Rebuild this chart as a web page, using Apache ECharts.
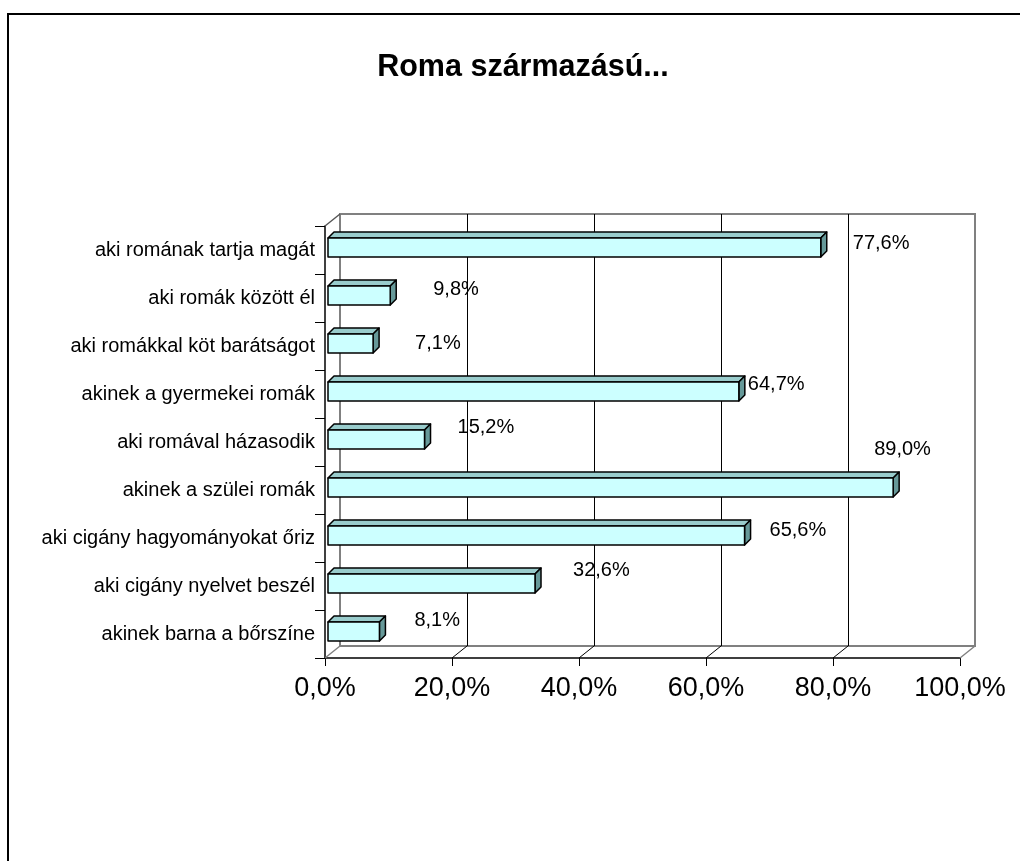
<!DOCTYPE html>
<html>
<head>
<meta charset="utf-8">
<title>Roma származású...</title>
<script src="https://cdn.jsdelivr.net/npm/echarts@6/dist/echarts.min.js"></script>
</head>
<body style="margin:0">
<div id="main" style="width:1020px;height:861px;"></div>
<script>
var categories = [
    'aki romának tartja magát',
    'aki romák között él',
    'aki romákkal köt barátságot',
    'akinek a gyermekei romák',
    'aki romával házasodik',
    'akinek a szülei romák',
    'aki cigány hagyományokat őriz',
    'aki cigány nyelvet beszél',
    'akinek barna a bőrszíne'
];
var values = [77.6, 9.8, 7.1, 64.7, 15.2, 89.0, 65.6, 32.6, 8.1];
var xTicks = [0, 20, 40, 60, 80, 100];

// Excel put the value labels a bit all over the place, nudges in px from the bar end
var labelNudge = [[32, -4], [43, -6], [42, 0], [9, -7], [33, -12], [-19, -38], [25, -5], [38, -13], [35, -11]];

var FONT = '"Liberation Sans", Arial, sans-serif';
var DX = 15, DY = -12;               // depth of the 3d walls
var BX = 3, BY = -2.5, BD = 6, BH = 19; // bar offset, bar depth, bar height

function pct(v) {
    return v.toFixed(1).replace('.', ',') + '%';
}

var myChart = echarts.init(document.getElementById('main'));

function renderBar(params, api) {
    var v = api.value(0), c = api.value(1);
    var p0 = api.coord([0, c]);
    var p1 = api.coord([v, c]);
    var x0 = p0[0] + BX, x1 = p1[0] + BX;
    var yc = p0[1] + BY;
    var yt = yc - BH / 2, yb = yc + BH / 2;
    var n = labelNudge[params.dataIndex];
    var edge = { stroke: '#000', lineWidth: 1.5, lineJoin: 'round' };
    return {
        type: 'group',
        children: [{
            type: 'polygon',
            shape: { points: [[x0, yt], [x1, yt], [x1 + BD, yt - BD], [x0 + BD, yt - BD]] },
            style: Object.assign({ fill: '#99cccc' }, edge)
        }, {
            type: 'polygon',
            shape: { points: [[x1, yt], [x1 + BD, yt - BD], [x1 + BD, yb - BD], [x1, yb]] },
            style: Object.assign({ fill: '#669999' }, edge)
        }, {
            type: 'rect',
            shape: { x: x0, y: yt, width: x1 - x0, height: BH },
            style: Object.assign({ fill: '#ccffff' }, edge)
        }, {
            type: 'text',
            style: {
                text: pct(v),
                x: x1 + n[0],
                y: yc + n[1],
                verticalAlign: 'middle',
                font: '20px ' + FONT,
                fill: '#000'
            }
        }]
    };
}

function renderFrame(params, api) {
    var v = api.value(0);
    var cs = params.coordSys;
    var x = api.coord([v, 0])[0];
    var yb = cs.y + cs.height;
    var isEdge = (v === 0 || v === 100);
    var kids = [{
        type: 'line',
        shape: { x1: x, y1: yb, x2: x + DX, y2: yb + DY },
        style: { stroke: isEdge ? '#808080' : '#000', lineWidth: isEdge ? 1.5 : 1 }
    }];
    if (v === 0) {
        kids.push({
            type: 'line',
            shape: { x1: x, y1: cs.y, x2: x + DX, y2: cs.y + DY },
            style: { stroke: '#555', lineWidth: 1.5 }
        });
    }
    return { type: 'group', children: kids };
}

var option = {
    backgroundColor: '#fff',
    animation: false,
    title: {
        text: 'Roma származású...',
        left: 518,
        top: 47,
        textAlign: 'center',
        textStyle: { fontFamily: FONT, fontSize: 30.5, fontWeight: 'bold', color: '#000' }
    },
    graphic: [{
        type: 'rect',
        shape: { x: 8, y: 14, width: 1100, height: 1000 },
        style: { fill: null, stroke: '#000', lineWidth: 2 },
        z: 100
    }],
    grid: [{
        left: 325, top: 226, width: 635, height: 432
    }, {
        left: 340, top: 214, width: 635, height: 432,
        show: true, borderColor: '#808080', borderWidth: 2, backgroundColor: 'transparent'
    }],
    xAxis: [{
        type: 'value', gridIndex: 0, min: 0, max: 100, interval: 20,
        axisLine: { show: true, lineStyle: { color: '#000', width: 1.5 } },
        axisTick: { show: true, length: 8, lineStyle: { color: '#000' } },
        axisLabel: {
            formatter: function (v) { return pct(v); },
            fontFamily: FONT, fontSize: 27, color: '#000', margin: 17
        },
        splitLine: { show: false }
    }, {
        type: 'value', gridIndex: 1, min: 0, max: 100, interval: 20,
        axisLine: { show: false }, axisTick: { show: false }, axisLabel: { show: false },
        splitLine: { show: true, showMinLine: false, showMaxLine: false, lineStyle: { color: '#000', width: 1 } }
    }],
    yAxis: [{
        type: 'category', gridIndex: 0, inverse: true, data: categories,
        axisLine: { show: true, lineStyle: { color: '#000', width: 1.5 } },
        axisTick: { show: true, length: 10, lineStyle: { color: '#000' } },
        axisLabel: { fontFamily: FONT, fontSize: 20, color: '#000', margin: 10 },
        splitLine: { show: false }
    }, {
        type: 'value', gridIndex: 1, show: false
    }],
    series: [{
        type: 'custom',
        xAxisIndex: 0, yAxisIndex: 0,
        renderItem: renderFrame,
        silent: true,
        z: 1,
        data: xTicks.map(function (t) { return [t, 0]; })
    }, {
        type: 'custom',
        xAxisIndex: 0, yAxisIndex: 0,
        renderItem: renderBar,
        z: 3,
        encode: { x: 0, y: 1 },
        data: values.map(function (v, i) { return [v, i]; })
    }]
};

myChart.setOption(option);
</script>
</body>
</html>
